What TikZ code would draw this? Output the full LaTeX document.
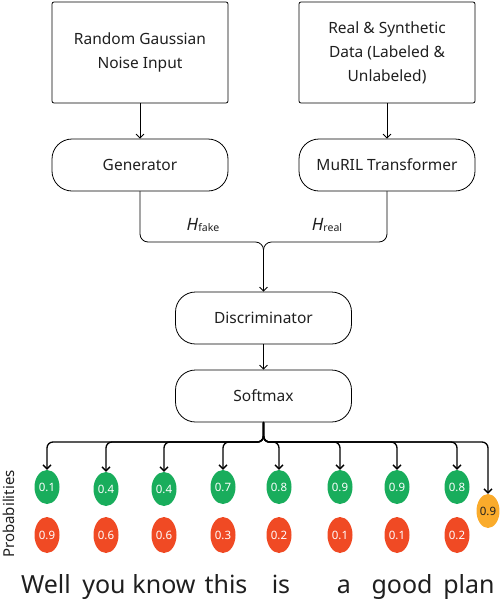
\documentclass[tikz,border=0pt]{standalone}
\usepackage{fontspec}
\setmainfont{Noto Sans}
\usetikzlibrary{arrows.meta,shapes.geometric}
\definecolor{qqaauu}{rgb}{0.1,0.68,0.36}
\definecolor{ffttcc}{rgb}{0.94,0.29,0.14}
\definecolor{ffaadd}{rgb}{0.98,0.67,0.17}
\definecolor{uuuuuu}{rgb}{0.12,0.12,0.12}

\begin{document}
\begin{tikzpicture}[line cap=round,line join=round,>={Straight Barb[length=4pt,width=8pt]},x=1pt,y=-1pt,
  inbox/.style={draw,rounded corners=2pt,minimum width=176pt,minimum height=101pt,align=center,line width=0.8pt,text=uuuuuu,font=\fontsize{15.5}{24}\selectfont},
  stage/.style={draw,rounded corners=20pt,minimum width=176pt,minimum height=52pt,line width=0.8pt,text=uuuuuu,font=\fontsize{15.5}{18}\selectfont},
  prob/.style={ellipse,inner sep=0pt,minimum width=25pt,minimum height=34pt,text=white,font=\fontsize{11.5}{11.5}\selectfont},
  word/.style={anchor=base,text=uuuuuu,font=\fontsize{25}{25}\selectfont}]
\useasboundingbox (0,0) rectangle (502,600);
% inputs
\node[inbox] (noise) at (140,52.5) {Random Gaussian\\Noise Input};
\node[inbox] (data) at (387,52.5) {Real \& Synthetic\\Data (Labeled \&\\Unlabeled)};
% models
\node[stage] (gen) at (140,165) {Generator};
\node[stage] (muril) at (387,165) {MuRIL Transformer};
\node[stage] (disc) at (263.5,318) {Discriminator};
\node[stage] (soft) at (263.5,396) {Softmax};
\draw[->,line width=0.8pt] (noise) -- (gen);
\draw[->,line width=0.8pt] (data) -- (muril);
\draw[->,line width=0.8pt,rounded corners=8pt] (gen.south) |- (263.5,242) -- (disc.north);
\draw[line width=0.8pt,rounded corners=8pt] (muril.south) |- (263.5,242) -- (263.5,260);
\draw[->,line width=0.8pt] (disc) -- (soft);
\node[text=uuuuuu,font=\fontsize{17}{17}\selectfont] (hfake) at (203,225) {\textit{H}\raisebox{-1.5pt}{\fontsize{10.5}{10.5}\selectfont fake}};
\node[text=uuuuuu,font=\fontsize{17}{17}\selectfont] (hreal) at (327,225) {\textit{H}\raisebox{-1.5pt}{\fontsize{10.5}{10.5}\selectfont real}};
% probabilities
\node[rotate=90,text=uuuuuu,font=\fontsize{15}{15}\selectfont] (plabel) at (9,514) {Probabilities};
\foreach \i/\x/\y/\p/\q in {1/47/487/0.1/0.9,2/106/489/0.4/0.6,3/164/489/0.4/0.6,4/223/487/0.7/0.3,
    5/279/487/0.8/0.2,6/340/487/0.9/0.1,7/397/487/0.9/0.1,8/457/487/0.8/0.2}{
  \node[prob,fill=qqaauu] (g\i) at (\x,\y) {\p};
  \node[prob,fill=ffttcc,minimum height=36pt] (r\i) at (\x,535) {\q};
}
\node[prob,fill=ffaadd,text=uuuuuu,minimum width=22pt] (g9) at (488,511) {0.9};
\foreach \i in {1,...,9}
  \draw[->,line width=1.3pt,rounded corners=6pt] (soft.south) -- (263.5,442) -| (g\i.north);
% words
\node[word] (w1) at (46,593) {Well};
\node[word] (w2) at (104,593) {you};
\node[word] (w3) at (164,593) {know};
\node[word] (w4) at (226,593) {this};
\node[word] (w5) at (281,593) {is};
\node[word] (w6) at (344,593) {a};
\node[word] (w7) at (402,593) {good};
\node[word] (w8) at (469,593) {plan};
\end{tikzpicture}
\end{document}
